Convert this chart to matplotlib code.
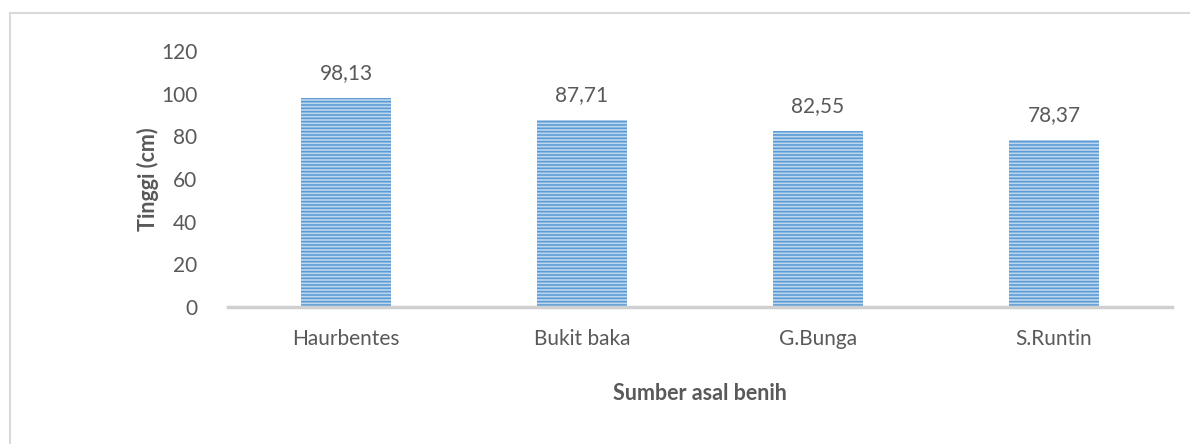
import numpy as np
import matplotlib.pyplot as plt
from matplotlib.lines import Line2D

categories = ['Haurbentes', 'Bukit baka', 'G.Bunga', 'S.Runtin']
values = [98.13, 87.71, 82.55, 78.37]
labels = ['98,13', '87,71', '82,55', '78,37']
yticks = [0, 20, 40, 60, 80, 100, 120]

W, H = 1190, 444
txt = '#595959'
plt.rcParams['font.family'] = ['Lato', 'DejaVu Sans']
plt.rcParams['hatch.linewidth'] = 1.2

fig = plt.figure(figsize=(W / 100, H / 100), dpi=100)
# outer chart border (only left and top visible)
fig.add_artist(Line2D([10 / W, 10 / W], [0, 1 - 13 / H], transform=fig.transFigure,
                      color='#d9d9d9', lw=1.5))
fig.add_artist(Line2D([10 / W, 1], [1 - 13 / H, 1 - 13 / H], transform=fig.transFigure,
                      color='#d9d9d9', lw=1.5))

ax = fig.add_axes([228 / W, 1 - 307 / H, (1172 - 228) / W, (307 - 51) / H])
x = np.arange(len(categories))
ax.bar(x, values, width=0.38, color='#bdd7ee', edgecolor='#5b9bd5', hatch='-----', lw=0)
for xi, v, lab in zip(x, values, labels):
    ax.text(xi, v + 7, lab, ha='center', va='bottom', fontsize=15, color=txt)

ax.set_xlim(-0.5, len(categories) - 0.5)
ax.set_ylim(0, 120)
ax.set_yticks(yticks)
ax.set_xticks(x)
ax.set_xticklabels(categories)
ax.tick_params(axis='both', length=0, labelsize=15, labelcolor=txt)
ax.tick_params(axis='y', pad=22)
ax.tick_params(axis='x', pad=16)
for s in ['top', 'right', 'left']:
    ax.spines[s].set_visible(False)
ax.spines['bottom'].set_color('#d0d0d0')
ax.spines['bottom'].set_linewidth(2.5)
ax.set_ylabel('Tinggi (cm)', fontsize=15.5, fontweight='bold', color=txt, va='center')
ax.yaxis.set_label_coords(-80 / 944, 0.5)
ax.set_xlabel('Sumber asal benih', fontsize=15.5, fontweight='bold', color=txt, labelpad=24)

fig.savefig('out.png', dpi=100)
